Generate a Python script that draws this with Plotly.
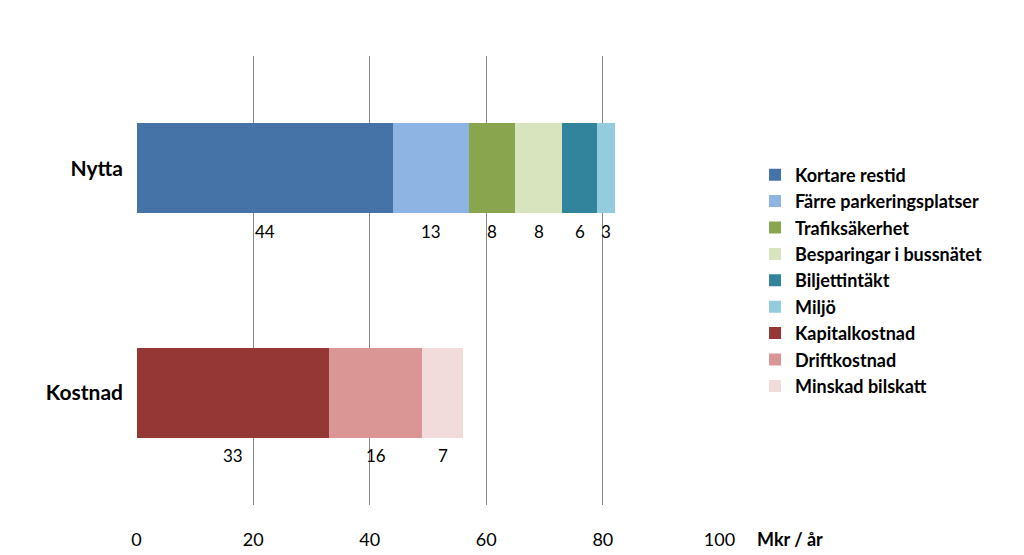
import plotly.graph_objects as go

categories = ["Nytta", "Kostnad"]
nytta_names = ["Kortare restid", "Färre parkeringsplatser", "Trafiksäkerhet",
               "Besparingar i bussnätet", "Biljettintäkt", "Miljö"]
nytta_values = [44, 13, 8, 8, 6, 3]
kostnad_names = ["Kapitalkostnad", "Driftkostnad", "Minskad bilskatt"]
kostnad_values = [33, 16, 7]
nytta_colors = ["#4573A7", "#8EB4E3", "#89A54E", "#D7E4BD", "#31849B", "#93CDDD"]
kostnad_colors = ["#953735", "#D99694", "#F2DCDB"]
x_ticks = [0, 20, 40, 60, 80, 100]

fig = go.Figure()
annotations = []
for cat, names, vals, cols in [("Nytta", nytta_names, nytta_values, nytta_colors),
                               ("Kostnad", kostnad_names, kostnad_values, kostnad_colors)]:
    cum = 0
    for n, v, c in zip(names, vals, cols):
        fig.add_trace(go.Bar(y=[cat], x=[v], name="<b>" + n + "</b>", orientation="h",
                             legendgroup=n,
                             marker=dict(color=c, line=dict(width=0)), width=0.4))
        annotations.append(dict(x=cum + v / 2, y=cat, text=str(v), showarrow=False,
                                yshift=-63, font=dict(size=17, color="black")))
        cum += v

annotations.append(dict(x=1.06, y=-0.075, xref="paper", yref="paper", text="<b>Mkr / år</b>",
                        showarrow=False, xanchor="left", yanchor="middle",
                        font=dict(size=18, color="black")))

fig.update_layout(
    barmode="stack", width=1024, height=555,
    margin=dict(l=128, r=312, t=48, b=58),
    paper_bgcolor="white", plot_bgcolor="white",
    font=dict(family="Lato, Open Sans, sans-serif", color="black"),
    xaxis=dict(range=[-0.1, 100.1], tickvals=x_ticks, showgrid=True, gridcolor="#888888",
               gridwidth=1, zeroline=False, showline=False, ticks="", automargin=False,
               tickfont=dict(size=18), ticklabelstandoff=22),
    yaxis=dict(categoryorder="array", categoryarray=["Kostnad", "Nytta"],
               showgrid=False, zeroline=False, showline=False, ticks="", automargin=False,
               tickfont=dict(size=21), ticklabelstandoff=12, tickprefix="<b>", ticksuffix="</b>"),
    legend=dict(x=1.06, y=0.5, xanchor="left", yanchor="middle", traceorder="normal",
                font=dict(size=18), itemwidth=30, tracegroupgap=12),
    annotations=annotations, showlegend=True,
)
fig.write_html("out.html")
